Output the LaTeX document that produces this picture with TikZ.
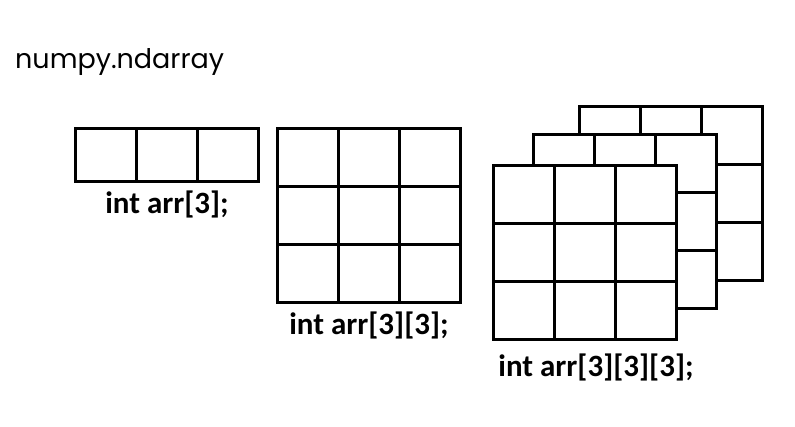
\documentclass[tikz,border=0pt]{standalone}
\usepackage{fontspec}
\usepackage{tikz}
\newfontfamily\titlefont{Poppins}
\newfontfamily\codefont{Carlito}

\begin{document}
\begin{tikzpicture}[
        x=1pt, y=-1pt,
        cellbox/.style={
            draw=black,
            fill=white,
            line width=3pt
        },
        cellline/.style={
            draw=black,
            line width=3pt
        },
        title/.style={
            anchor=base west,
            inner sep=0pt,
            font=\titlefont\fontsize{27}{32}\selectfont
        },
        decl/.style={
            anchor=base,
            inner sep=0pt,
            font=\codefont\bfseries\fontsize{31}{36}\selectfont
        }
    ]

    \useasboundingbox (0,0) rectangle (795,426);

    \node (head) [title] at (15,68) {numpy.ndarray};

    % one dimension
    \begin{scope}[shift={(75,128)}]
        \draw [cellbox] (0,0) rectangle (183,53);
        \foreach \i in {1,2}
            \draw [cellline] (\i*61,0) -- (\i*61,53);
    \end{scope}
    \node (decl1) [decl] at (167,213) {int arr[3];};

    % two dimensions
    \begin{scope}[shift={(277,128)}]
        \draw [cellbox] (0,0) rectangle (183,174);
        \foreach \i in {1,2} {
            \draw [cellline] (\i*61,0) -- (\i*61,174);
            \draw [cellline] (0,\i*58) -- (183,\i*58);
        }
    \end{scope}
    \node (decl2) [decl] at (369,334) {int arr[3][3];};

    % three dimensions, back to front
    \foreach \x/\y in {579/106, 533/134, 493/165} {
        \begin{scope}[shift={(\x,\y)}]
            \draw [cellbox] (0,0) rectangle (183,174);
            \foreach \i in {1,2} {
                \draw [cellline] (\i*61,0) -- (\i*61,174);
                \draw [cellline] (0,\i*58) -- (183,\i*58);
            }
        \end{scope}
    }
    \node (decl3) [decl] at (596,376) {int arr[3][3][3];};

\end{tikzpicture}
\end{document}
